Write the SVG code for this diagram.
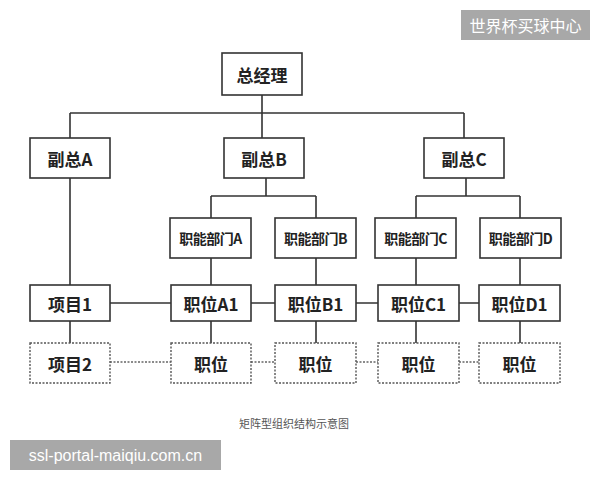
<svg xmlns="http://www.w3.org/2000/svg" width="600" height="480" viewBox="0 0 600 480">
<style>
.n{fill:#fff;stroke:#333;stroke-width:1.6}
.d{fill:#fff;stroke:#555;stroke-width:1.4;stroke-dasharray:2 1.5}
.t{font-family:"Noto Sans CJK SC","Liberation Sans",sans-serif;font-weight:bold;fill:#222;text-anchor:middle;dominant-baseline:central;font-size:17px}
.s{font-size:14px;letter-spacing:-0.5px}
.l{stroke:#333;stroke-width:1.6;fill:none}
.dl{stroke:#666;stroke-width:1.4;stroke-dasharray:2 1.5;fill:none}
</style>
<rect width="600" height="480" fill="#fff"/>
<g id="connectors">
<path class="l" d="M262 95V113M70 113H464M70 113V138M262 113V138M464 113V138"/>
<path class="l" d="M70 178V285M266 178V196M211 196H316M211 196V218M316 196V218M466 178V196M416 196H520M416 196V218M520 196V218"/>
<path class="l" d="M211 258V285M316 258V285M416 258V285M520 258V285"/>
<path class="l" d="M110 303H171M251 303H275M356 303H378M459 303H479"/>
<path class="l" d="M70 321V343M211 321V343M316 321V343M416 321V343M520 321V343"/>
<path class="dl" d="M110 362H171M251 362H275M356 362H378M459 362H479"/>
</g>
<g id="zjl"><rect class="n" x="222" y="53" width="80" height="42"/><text class="t" x="262" y="74">总经理</text></g>
<g id="fza"><rect class="n" x="30" y="138" width="80" height="40"/><text class="t" x="70" y="158">副总A</text></g>
<g id="fzb"><rect class="n" x="224" y="138" width="80" height="40"/><text class="t" x="264" y="158">副总B</text></g>
<g id="fzc"><rect class="n" x="424" y="138" width="80" height="40"/><text class="t" x="464" y="158">副总C</text></g>
<g id="bma"><rect class="n" x="170" y="218" width="81" height="40"/><text class="t s" x="210.5" y="238">职能部门A</text></g>
<g id="bmb"><rect class="n" x="275" y="218" width="81" height="40"/><text class="t s" x="315.5" y="238">职能部门B</text></g>
<g id="bmc"><rect class="n" x="375" y="218" width="81" height="40"/><text class="t s" x="415.5" y="238">职能部门C</text></g>
<g id="bmd"><rect class="n" x="480" y="218" width="81" height="40"/><text class="t s" x="520.5" y="238">职能部门D</text></g>
<g id="xm1"><rect class="n" x="30" y="285" width="80" height="36"/><text class="t" x="70" y="303">项目1</text></g>
<g id="a1"><rect class="n" x="171" y="285" width="80" height="36"/><text class="t" x="211" y="303">职位A1</text></g>
<g id="b1"><rect class="n" x="275" y="285" width="81" height="36"/><text class="t" x="315.5" y="303">职位B1</text></g>
<g id="c1"><rect class="n" x="378" y="285" width="81" height="36"/><text class="t" x="418.5" y="303">职位C1</text></g>
<g id="d1"><rect class="n" x="479" y="285" width="81" height="36"/><text class="t" x="519.5" y="303">职位D1</text></g>
<g id="xm2"><rect class="d" x="30" y="343" width="80" height="40"/><text class="t" x="70" y="363">项目2</text></g>
<g id="zw1"><rect class="d" x="171" y="343" width="80" height="40"/><text class="t" x="211" y="363">职位</text></g>
<g id="zw2"><rect class="d" x="275" y="343" width="81" height="40"/><text class="t" x="315.5" y="363">职位</text></g>
<g id="zw3"><rect class="d" x="378" y="343" width="81" height="40"/><text class="t" x="418.5" y="363">职位</text></g>
<g id="zw4"><rect class="d" x="479" y="343" width="81" height="40"/><text class="t" x="519.5" y="363">职位</text></g>
<text x="294" y="423" font-size="11" fill="#555" text-anchor="middle" dominant-baseline="central" font-family="Noto Sans CJK SC,sans-serif">矩阵型组织结构示意图</text>
<rect x="461" y="10" width="129" height="30" fill="#a8a8a8"/>
<text x="525.5" y="25" font-size="16" fill="#fff" text-anchor="middle" dominant-baseline="central" font-family="Noto Sans CJK SC,sans-serif">世界杯买球中心</text>
<rect x="10" y="440" width="211" height="30" fill="#a8a8a8"/>
<text x="115.5" y="455" font-size="16" fill="#fff" text-anchor="middle" dominant-baseline="central" font-family="Liberation Sans,sans-serif">ssl-portal-maiqiu.com.cn</text>
</svg>
